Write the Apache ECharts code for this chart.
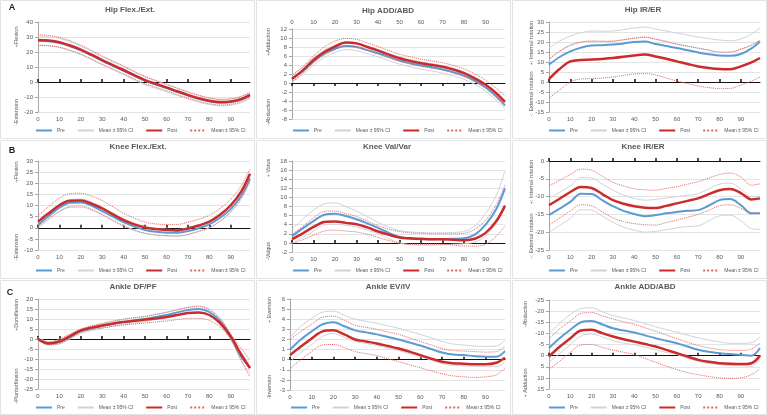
<!DOCTYPE html>
<html>
<head>
<meta charset="utf-8">
<script src="https://cdn.jsdelivr.net/npm/echarts@6/dist/echarts.min.js"></script>
<style>
  html, body { margin: 0; padding: 0; background: #fff; }
  #chart { width: 767px; height: 415px; }
</style>
</head>
<body>
<div id="chart"></div>
<script>
// % of stance / gait cycle
const gaitPct = [0, 5, 10, 15, 20, 25, 30, 35, 40, 45, 50, 55, 60, 65, 70, 75, 80, 85, 90, 95, 99];
const xTicks = [0, 10, 20, 30, 40, 50, 60, 70, 80, 90];

// Hip Flex./Ext.
const hipFlexPre    = [27.5, 27.1, 26, 23.8, 21.1, 17.7, 14.1, 10.8, 7.5, 4.1, 0.8, -1.7, -4.1, -6.6, -9, -11.2, -12.9, -13.8, -13.4, -11.7, -9];
const hipFlexPreHi  = [30.5, 30.1, 29, 26.7, 23.9, 20.4, 16.8, 13.4, 10.1, 6.7, 3.3, 0.8, -1.7, -4.3, -6.8, -9, -10.8, -11.7, -11.3, -9.6, -7];
const hipFlexPreLo  = [24.5, 24.1, 23, 20.9, 18.3, 15, 11.4, 8.2, 4.9, 1.5, -1.7, -4.2, -6.5, -8.9, -11.2, -13.4, -15, -15.9, -15.5, -13.8, -11];
const hipFlexPost   = [28, 27.6, 26.5, 24.3, 21.6, 18.2, 14.6, 11.3, 8, 4.6, 1.3, -1.2, -3.6, -6.2, -8.6, -10.8, -12.5, -13.4, -13, -11.3, -8.6];
const hipFlexPostHi = [31.5, 31, 29.8, 27.5, 24.6, 21.1, 17.4, 14, 10.6, 7.1, 3.7, 1.1, -1.4, -4, -6.5, -8.8, -10.6, -11.5, -11.2, -9.6, -7];
const hipFlexPostLo = [24.5, 24.2, 23.2, 21.1, 18.6, 15.3, 11.8, 8.6, 5.4, 2.1, -1.1, -3.5, -5.8, -8.4, -10.7, -12.8, -14.4, -15.3, -14.8, -13, -10.2];

// Hip ADD/ABD
const hipAddPre    = [1.0, 2.7, 4.8, 6.5, 7.6, 8.2, 8.0, 7.3, 6.6, 5.8, 5.0, 4.4, 3.9, 3.5, 3.0, 2.4, 1.6, 0.5, -1.0, -3.0, -5.0];
const hipAddPreHi  = [1.9, 3.5, 5.6, 7.3, 8.4, 9.0, 8.8, 8.1, 7.4, 6.6, 5.8, 5.2, 4.7, 4.3, 3.8, 3.2, 2.4, 1.3, -0.2, -2.2, -4.2];
const hipAddPreLo  = [0.2, 1.9, 4.0, 5.7, 6.8, 7.4, 7.2, 6.5, 5.8, 5.0, 4.2, 3.6, 3.1, 2.7, 2.2, 1.6, 0.8, -0.3, -1.8, -3.8, -5.8];
const hipAddPost   = [0.9, 2.8, 5.1, 6.9, 8.1, 9.0, 8.8, 8.0, 7.2, 6.3, 5.5, 4.9, 4.4, 4.0, 3.6, 3.0, 2.2, 1.0, -0.4, -2.3, -4.2];
const hipAddPostHi = [1.6, 3.6, 6.0, 8.0, 9.3, 9.9, 9.7, 8.9, 8.1, 7.2, 6.4, 5.8, 5.3, 4.9, 4.5, 3.9, 3.1, 2.0, 0.6, -1.2, -2.9];
const hipAddPostLo = [0.3, 2.2, 4.5, 6.2, 7.4, 8.3, 8.1, 7.3, 6.5, 5.6, 4.8, 4.2, 3.7, 3.3, 2.9, 2.3, 1.5, 0.3, -1.1, -3.0, -4.9];

// Hip IR/ER
const hipRotPre    = [8.7, 12.5, 15.3, 17.2, 18.3, 18.4, 18.7, 19.3, 20, 20.3, 19.0, 18, 17, 15.9, 14.8, 13.9, 13.2, 13.1, 14, 16.8, 20.3];
const hipRotPreHi  = [17, 20.5, 23, 24.6, 25.5, 25.4, 25.5, 26.2, 27, 27.5, 26.5, 25.5, 24.5, 23.5, 22.5, 21.7, 21, 20.6, 21.5, 24, 27];
const hipRotPreLo  = [11.2, 15.2, 18.2, 19.8, 20.3, 20.2, 20.3, 21, 21.8, 22.3, 21.3, 20.1, 18.8, 17.8, 16.8, 15.8, 14.8, 14.8, 16.3, 18.3, 20.8];
const hipRotPost   = [1.5, 6.5, 10.3, 11, 11.2, 11.5, 12, 12.6, 13.3, 13.7, 12.8, 11.6, 10.3, 9, 7.8, 7, 6.5, 6.4, 7.8, 9.8, 12];
const hipRotPostHi = [11.5, 15.5, 18.5, 20, 20.5, 20.4, 20.5, 21.2, 22, 22.5, 21.5, 20.3, 19, 18, 17, 16, 15, 15, 16.5, 18.5, 21];
const hipRotPostLo = [-8, -4, 0, 1.5, 1.7, 2, 2.5, 3.3, 4, 4.2, 3.5, 2, 0.5, -0.8, -2, -2.8, -3.3, -3.2, -1.5, 0.5, 2.5];

// Knee Flex./Ext.
const kneeFlexPre    = [1.2, 5.3, 9, 11.2, 11.4, 10, 7.5, 5, 2.5, 0.5, -1, -1.8, -2.2, -2.3, -1.5, -0.2, 1.5, 4.5, 8.5, 14.5, 22];
const kneeFlexPreHi  = [2.7, 6.8, 10.5, 12.7, 12.9, 11.5, 9, 6.5, 4, 2, 0.5, -0.3, -0.7, -0.8, 0, 1.3, 3, 6, 10, 16, 23.5];
const kneeFlexPreLo  = [-0.3, 3.8, 7.5, 9.7, 9.9, 8.5, 6, 3.5, 1, -1, -2.5, -3.3, -3.7, -3.8, -3, -1.7, 0, 3, 7, 13, 20.5];
const kneeFlexPost   = [2.7, 6.5, 10.1, 12.1, 12.2, 10.8, 8.7, 6, 3.4, 1.5, 0.1, -0.6, -1.0, -1.2, -0.3, 1, 2.7, 5.8, 10.1, 16.5, 24.3];
const kneeFlexPostHi = [5.5, 9.5, 13.3, 15.3, 15.5, 14.2, 12.2, 9.4, 6.5, 4.3, 2.5, 1.7, 1.5, 1.5, 2.5, 3.8, 5.6, 8.7, 12.8, 19, 26.5];
const kneeFlexPostLo = [0.5, 4, 7.3, 9.2, 9.3, 8.0, 5.8, 3.1, 0.7, -1.2, -2.5, -3.2, -3.5, -3.7, -3, -1.6, 0, 3, 7.3, 13.8, 22];

// Knee Val/Var
const kneeVarPre    = [1.5, 3.2, 4.8, 6.2, 6.4, 5.9, 5.2, 4.3, 3.3, 2.2, 1.3, 0.9, 0.8, 0.8, 0.8, 0.9, 1.0, 1.8, 4, 7.5, 12];
const kneeVarPreHi  = [3, 5.2, 7.2, 8.6, 8.8, 8.0, 7, 5.8, 4.5, 3.5, 2.7, 2.4, 2.3, 2.2, 2.2, 2.3, 2.5, 3.8, 6.5, 10.5, 15.8];
const kneeVarPreLo  = [0, 1.2, 2.6, 4, 4.1, 3.9, 3.5, 2.8, 2, 0.9, 0, -0.4, -0.5, -0.5, -0.4, -0.3, -0.2, 0.2, 1.5, 4.5, 8];
const kneeVarPost   = [0.8, 2.1, 3.5, 4.6, 4.7, 4.4, 4.1, 3.4, 2.5, 1.8, 1.2, 1.0, 0.9, 0.8, 0.8, 0.7, 0.6, 0.9, 2.2, 4.8, 8.2];
const kneeVarPostHi = [1.8, 3.6, 5.5, 6.9, 7, 6.4, 5.8, 4.8, 3.8, 3, 2.5, 2.2, 2.1, 2.0, 2.0, 2.0, 2.1, 3, 5, 8.5, 12.7];
const kneeVarPostLo = [-0.2, 0.7, 1.7, 2.6, 2.8, 2.6, 2.4, 1.9, 1.2, 0.5, -0.1, -0.3, -0.3, -0.3, -0.3, -0.5, -0.7, -0.7, -0.3, 1.5, 3.7];

// Knee IR/ER
const kneeRotPre    = [-15.2, -13.4, -11.5, -9.2, -9.3, -11, -12.7, -14, -14.9, -15.5, -15.2, -14.7, -14.3, -14, -13.8, -12.5, -11, -10.7, -12.4, -14.7, -14.7];
const kneeRotPreHi  = [-10.5, -8.8, -7, -4.7, -4.8, -6.5, -8.2, -9.6, -10.5, -11, -10.8, -10.4, -10, -9.6, -9.2, -7.8, -6.5, -6.2, -7.8, -10, -10];
const kneeRotPreLo  = [-20, -18.1, -16.1, -13.7, -13.8, -15.5, -17.2, -18.6, -19.4, -20, -19.8, -19.3, -18.8, -18.4, -18.2, -16.8, -15.4, -15.2, -16.8, -19, -19.2];
const kneeRotPost   = [-12.4, -10.6, -8.7, -7.3, -7.6, -9.3, -11, -12, -12.7, -13.1, -13.2, -12.6, -11.9, -11.2, -10.5, -9.3, -8.2, -7.9, -9, -10.8, -10.5];
const kneeRotPostHi = [-7, -5.4, -3.8, -2.3, -2.6, -4.3, -6, -7, -7.8, -8.1, -8.2, -7.7, -7.2, -6.5, -5.8, -4.8, -3.8, -3.4, -4.5, -6.8, -6.4];
const kneeRotPostLo = [-18, -16, -14, -12.3, -12.6, -14.3, -16, -17, -17.6, -17.9, -18, -17.3, -16.6, -15.8, -15, -13.8, -12.6, -12.3, -13.3, -14.8, -14.5];

// Ankle DF/PF
const ankleDfPre    = [0, -2, -1.5, 1, 3.8, 5.3, 6.5, 7.6, 8.5, 9.3, 10, 11, 12, 13.3, 14.5, 15, 13.5, 9, 1, -9, -14.5];
const ankleDfPreHi  = [0.8, -1.3, -0.6, 2, 4.8, 6.4, 7.6, 8.7, 9.7, 10.5, 11.2, 12.3, 13.4, 14.8, 16, 16.5, 15, 10.5, 2.3, -7, -12];
const ankleDfPreLo  = [-0.8, -2.7, -2.4, 0, 2.8, 4.2, 5.4, 6.5, 7.3, 8.1, 8.8, 9.7, 10.6, 11.8, 13, 13.5, 12, 7.5, -0.3, -11, -17];
const ankleDfPost   = [0, -2.3, -1.2, 1.5, 4.3, 5.7, 6.8, 7.7, 8.5, 9.1, 9.7, 10.3, 11, 12, 13, 13.2, 12, 8, 1.3, -8, -14.5];
const ankleDfPostHi = [0.5, -1.6, 0, 2.5, 5, 6.5, 7.8, 9, 10, 10.7, 11.3, 12.3, 13.3, 14.5, 15.7, 16.2, 14.5, 10, 2.5, -5, -10.5];
const ankleDfPostLo = [-0.5, -3, -2.4, 0.5, 3.5, 4.6, 5.5, 6.3, 7, 7.5, 8, 8.5, 9, 9.7, 10.3, 10.3, 9.3, 6, 0, -11, -19];

// Ankle EV/IV
const ankleEvPre    = [1.0, 2.0, 2.8, 3.5, 3.7, 3.3, 2.9, 2.7, 2.5, 2.25, 2.0, 1.7, 1.4, 1.05, 0.7, 0.5, 0.45, 0.35, 0.3, 0.3, 0.85];
const ankleEvPreHi  = [2.2, 3.3, 4.1, 4.7, 4.8, 4.4, 4.0, 3.8, 3.6, 3.35, 3.1, 2.8, 2.5, 2.15, 1.8, 1.55, 1.45, 1.35, 1.3, 1.35, 1.9];
const ankleEvPreLo  = [-0.2, 0.7, 1.5, 2.3, 2.6, 2.2, 1.8, 1.6, 1.4, 1.15, 0.9, 0.6, 0.3, -0.05, -0.4, -0.55, -0.6, -0.65, -0.7, -0.7, -0.2];
const ankleEvPost   = [0.45, 1.3, 2.1, 2.8, 2.9, 2.5, 2.0, 1.8, 1.6, 1.35, 1.1, 0.8, 0.45, 0.1, -0.2, -0.35, -0.4, -0.45, -0.45, -0.3, 0.2];
const ankleEvPostHi = [2.0, 2.8, 3.5, 4.2, 4.3, 3.9, 3.4, 3.2, 3.0, 2.75, 2.5, 2.15, 1.8, 1.45, 1.1, 0.9, 0.85, 0.8, 0.75, 0.8, 1.3];
const ankleEvPostLo = [-0.9, 0, 0.8, 1.45, 1.5, 1.2, 0.8, 0.6, 0.4, 0.1, -0.2, -0.5, -0.8, -1.1, -1.4, -1.6, -1.7, -1.75, -1.7, -1.5, -0.85];

// Ankle ADD/ABD
const ankleAddPre    = [-3.4, -7.8, -11.6, -15, -15.6, -14, -12.3, -11.3, -10.4, -9.1, -7.8, -6.7, -5.6, -4.1, -2.6, -1.7, -1.1, -0.7, -0.4, 0, -3.4];
const ankleAddPreHi  = [-10, -14.5, -18.5, -21.2, -21.5, -19.7, -18, -16.9, -15.8, -14.4, -13, -11.7, -10.5, -9.2, -8, -7, -6.2, -5.5, -5.5, -5.8, -8.5];
const ankleAddPreLo  = [3, -1, -4.8, -8.8, -9.7, -8.4, -6.7, -5.6, -4.9, -3.8, -2.6, -1.4, -0.5, 1.2, 2.5, 3.5, 4.0, 4.5, 4.5, 4.8, 1.5];
const ankleAddPost   = [0.4, -4, -7.8, -11.3, -11.6, -10.1, -8.6, -7.4, -6.3, -5.2, -4.1, -2.6, -1.1, 0.4, 1.9, 2.8, 3.4, 3.7, 3.8, 3.4, 0];
const ankleAddPostHi = [-7.5, -12, -15.5, -19, -19.3, -17.9, -16.5, -15.2, -14, -12.5, -11, -9.3, -7.6, -6, -4.5, -3.5, -2.7, -2.4, -2.3, -3, -5.5];
const ankleAddPostLo = [6, 2.5, -1.5, -4.8, -5, -3.7, -2.5, -1.5, -0.5, 1.2, 3, 4.7, 6.3, 7.6, 8.6, 9.4, 10, 10.2, 10, 8.5, 6];

const legendNames = ['Pre', 'Mean ± 95% CI', 'Post', 'Mean ± 95% CI '];

const panels = [
  { title: 'Hip Flex./Ext.', tx: 130, ty: 10, grid: [38, 22, 212, 90], y: [-20, 40, 10], legend: [35, 128],
    names: [['+Flexion', 16, 37], ['-Extension', 16, 112]],
    lines: [hipFlexPre, hipFlexPreHi, hipFlexPreLo, hipFlexPost, hipFlexPostHi, hipFlexPostLo] },
  { title: 'Hip ADD/ABD', tx: 388, ty: 11, grid: [292, 29, 213, 90], y: [-8, 12, 2], legend: [292, 128], labelsTop: true,
    names: [['+Adduction', 268, 42], ['-Abduction', 268, 112]],
    lines: [hipAddPre, hipAddPreHi, hipAddPreLo, hipAddPost, hipAddPostHi, hipAddPostLo] },
  { title: 'Hip IR/ER', tx: 643, ty: 10, grid: [549, 22, 211, 90], y: [-15, 30, 5], legend: [548, 128],
    names: [['+: Internal rotation', 531, 43], ['-: External rotation', 531, 94]],
    lines: [hipRotPre, hipRotPreHi, hipRotPreLo, hipRotPost, hipRotPostHi, hipRotPostLo] },
  { title: 'Knee Flex./Ext.', tx: 138, ty: 147, grid: [38, 161, 212, 89], y: [-10, 30, 5], legend: [35, 268],
    names: [['+Flexion', 16, 172], ['-Extension', 16, 247]],
    lines: [kneeFlexPre, kneeFlexPreHi, kneeFlexPreLo, kneeFlexPost, kneeFlexPostHi, kneeFlexPostLo] },
  { title: 'Knee Val/Var', tx: 387, ty: 147, grid: [292, 161, 213, 91], y: [-2, 18, 2], legend: [292, 268],
    names: [['+ Varus', 268, 168], ['-Valgus', 268, 251]],
    lines: [kneeVarPre, kneeVarPreHi, kneeVarPreLo, kneeVarPost, kneeVarPostHi, kneeVarPostLo] },
  { title: 'Knee IR/ER', tx: 643, ty: 147, grid: [549, 161, 211, 89], y: [-25, 0, 5], legend: [548, 268],
    names: [['+: Internal rotation', 531, 182], ['-: External rotation', 531, 236]],
    lines: [kneeRotPre, kneeRotPreHi, kneeRotPreLo, kneeRotPost, kneeRotPostHi, kneeRotPostLo] },
  { title: 'Ankle DF/PF', tx: 133, ty: 287, grid: [38, 299, 212, 90], y: [-25, 20, 5], legend: [35, 405],
    names: [['+Dorsiflexion', 16, 315], ['-Plantarflexion', 16, 386]],
    lines: [ankleDfPre, ankleDfPreHi, ankleDfPreLo, ankleDfPost, ankleDfPostHi, ankleDfPostLo] },
  { title: 'Ankle EV/IV', tx: 388, ty: 287, grid: [290, 299, 215, 91], y: [-3, 6, 1], legend: [290, 405],
    names: [['+ Eversion', 269, 310], ['-Inversion', 269, 387]],
    lines: [ankleEvPre, ankleEvPreHi, ankleEvPreLo, ankleEvPost, ankleEvPostHi, ankleEvPostLo] },
  { title: 'Ankle ADD/ABD', tx: 645, ty: 287, grid: [549, 300, 211, 89], y: [-25, 15, 5], legend: [548, 405], inverse: true,
    names: [['-Abduction', 525, 314], ['+ Adduction', 525, 383]],
    lines: [ankleAddPre, ankleAddPreHi, ankleAddPreLo, ankleAddPost, ankleAddPostHi, ankleAddPostLo] }
];

const FONT = '"Liberation Sans", Arial, sans-serif';
const TXT = '#595959';

const styles = [
  { name: 'Mean ± 95% CI', color: '#cfd3d8', width: 1, type: 'solid', z: 2, src: 1 },
  { name: 'Mean ± 95% CI', color: '#cfd3d8', width: 1, type: 'solid', z: 2, src: 2 },
  { name: 'Pre', color: '#5b9bd5', width: 2, type: 'solid', z: 3, src: 0 },
  { name: 'Mean ± 95% CI ', color: '#e06666', width: 1, type: 'dotted', z: 4, src: 4 },
  { name: 'Mean ± 95% CI ', color: '#e06666', width: 1, type: 'dotted', z: 4, src: 5 },
  { name: 'Post', color: '#cc2b2b', width: 2.5, type: 'solid', z: 5, src: 3 }
];

const grid = [], xAxis = [], yAxis = [], series = [], legend = [], graphic = [];

// panel frames
[[0, 0, 254, 138], [256, 0, 254, 138], [512, 0, 254, 138],
 [0, 140, 254, 138], [256, 140, 254, 138], [512, 140, 254, 138],
 [0, 280, 254, 134], [256, 280, 254, 134], [512, 280, 254, 134]].forEach(r => {
  graphic.push({ type: 'rect', shape: { x: r[0] + 0.5, y: r[1] + 0.5, width: r[2], height: r[3] },
    style: { fill: 'none', stroke: '#e3e3e3', lineWidth: 1 }, silent: true, z: 0 });
});

[['A', 12, 8], ['B', 12, 151], ['C', 10, 293]].forEach(l => {
  graphic.push({ type: 'text', x: l[1], y: l[2],
    style: { text: l[0], font: 'bold 9px ' + FONT, fill: '#222', align: 'center', verticalAlign: 'middle' } });
});

panels.forEach((p, i) => {
  grid.push({ left: p.grid[0], top: p.grid[1], width: p.grid[2], height: p.grid[3], containLabel: false });

  // axis that carries the tick labels
  xAxis.push({
    gridIndex: i, type: 'value', min: 0, max: 99,
    position: p.labelsTop ? 'top' : 'bottom',
    axisLine: { show: false, onZero: false }, axisTick: { show: false },
    axisLabel: { fontSize: 6, color: TXT, fontFamily: FONT, margin: 4, customValues: xTicks },
    splitLine: { show: false }
  });
  // black zero line with ticks
  xAxis.push({
    gridIndex: i, type: 'value', min: 0, max: 99,
    position: p.labelsTop ? 'bottom' : 'top',
    axisLine: { show: true, onZero: true, lineStyle: { color: '#111', width: 1 } },
    axisTick: { show: true, length: 3, lineStyle: { color: '#111', width: 1.5 }, customValues: xTicks },
    axisLabel: { show: false }, splitLine: { show: false }
  });

  yAxis.push({
    gridIndex: i, type: 'value', min: p.y[0], max: p.y[1], interval: p.y[2], inverse: !!p.inverse,
    axisLine: { show: true, onZero: false, lineStyle: { color: '#a6a6a6' } },
    axisTick: { show: true, length: 3, lineStyle: { color: '#a6a6a6' } },
    axisLabel: { fontSize: 6, color: TXT, fontFamily: FONT, margin: 5 },
    splitLine: { lineStyle: { color: '#e4e4e4', width: 1 } }
  });

  styles.forEach(s => {
    series.push({
      type: 'line', name: s.name, xAxisIndex: i * 2, yAxisIndex: i,
      data: gaitPct.map((x, k) => [x, p.lines[s.src][k]]),
      smooth: 0.35, symbol: 'none', showSymbol: false, silent: true, z: s.z,
      itemStyle: { color: s.color },
      lineStyle: { color: s.color, width: s.width, type: s.type }
    });
  });

  legend.push({
    left: p.legend[0], top: p.legend[1], width: 230, orient: 'horizontal',
    itemWidth: 16, itemHeight: 6, itemGap: 12, padding: 0, selectedMode: false,
    itemStyle: { opacity: 0 },
    textStyle: { fontSize: 5, color: TXT, fontFamily: FONT },
    data: legendNames
  });

  graphic.push({ type: 'text', x: p.tx, y: p.ty,
    style: { text: p.title, font: 'bold 8px ' + FONT, fill: TXT, align: 'center', verticalAlign: 'middle' } });

  p.names.forEach(n => {
    graphic.push({ type: 'text', x: n[1], y: n[2], rotation: Math.PI / 2,
      style: { text: n[0], font: '5.5px ' + FONT, fill: TXT, align: 'center', verticalAlign: 'middle' } });
  });
});

const chart = echarts.init(document.getElementById('chart'), null, { renderer: 'canvas' });
chart.setOption({
  animation: false,
  backgroundColor: '#fff',
  grid, xAxis, yAxis, series, legend, graphic
});
window.addEventListener('resize', () => chart.resize());
</script>
</body>
</html>
